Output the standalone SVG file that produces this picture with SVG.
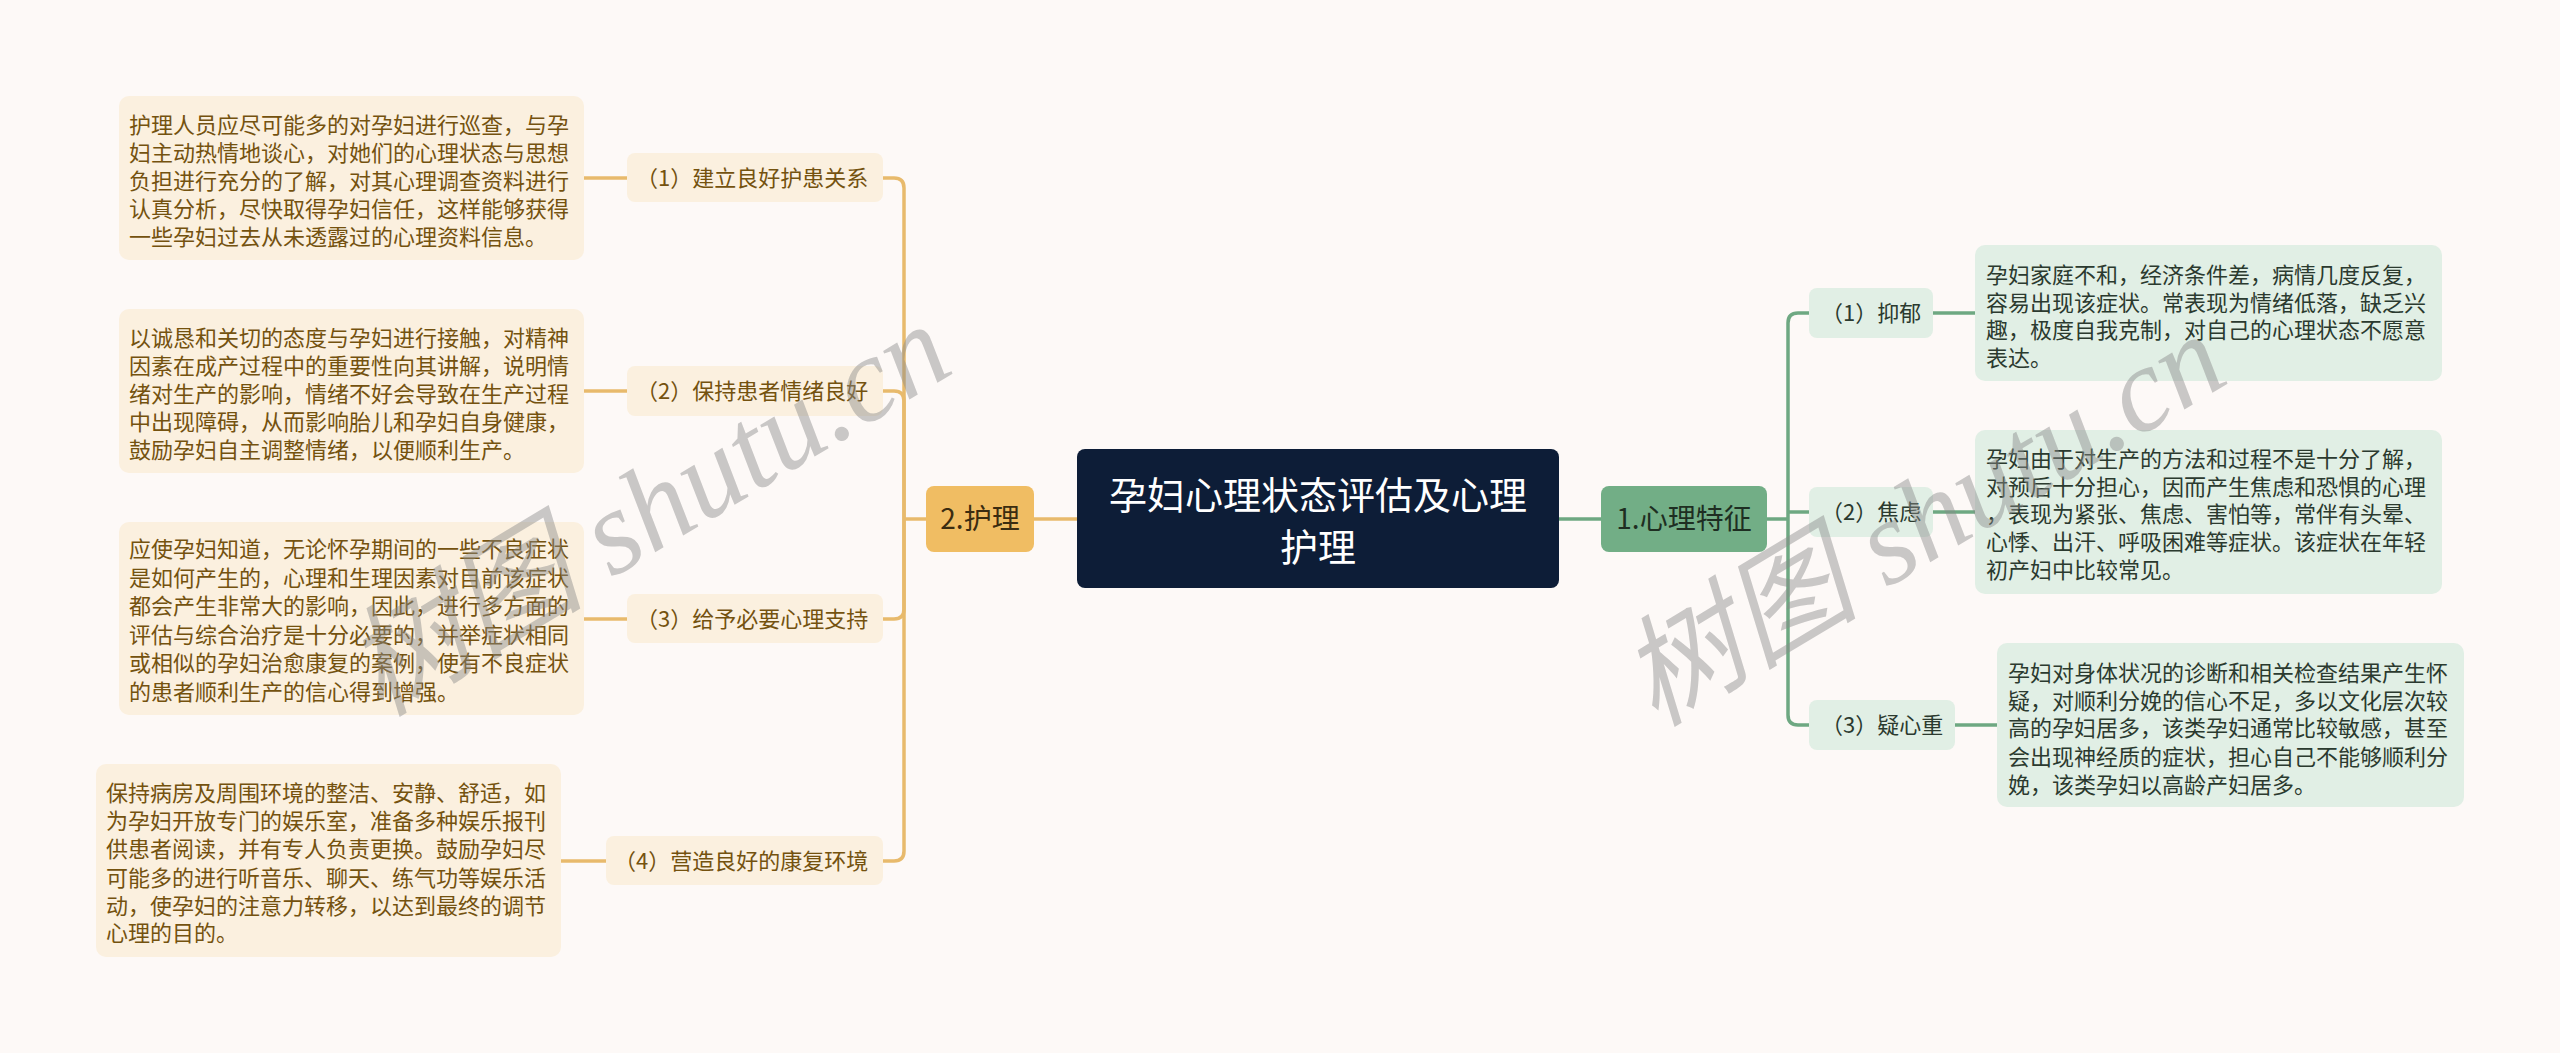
<svg xmlns="http://www.w3.org/2000/svg" width="2560" height="1053" viewBox="0 0 2560 1053">
<style>
.bg{fill:#FDF9F7}
.lc{fill:none;stroke:#E8BA6C;stroke-width:3.5}
.rc{fill:none;stroke:#6EA882;stroke-width:3.5}
.ld{fill:#FBF0DF}
.rd{fill:#E1EFE5}
.t{font-family:"Noto Sans CJK SC","Noto Sans",sans-serif;font-size:22px}
.lt{fill:#74520F}
.rt{fill:#2B3A2F}
.wm{font-family:"Liberation Serif","Noto Sans CJK SC",serif;font-style:italic;font-size:120px;fill:#8A8A8A;fill-opacity:0.45}
</style>
<rect class="bg" x="0" y="0" width="2560" height="1053"/>
<g id="connectors">
<path class="lc" d="M1034 519 H1077"/>
<path class="lc" d="M926 519 H904"/>
<path class="lc" d="M883 178 H894 Q904 178 904 188 V519"/>
<path class="lc" d="M883 391 H894 Q904 391 904 401 V519"/>
<path class="lc" d="M883 619 H894 Q904 619 904 609 V519"/>
<path class="lc" d="M883 861 H894 Q904 861 904 851 V519"/>
<path class="lc" d="M584 178 H627"/>
<path class="lc" d="M584 391 H627"/>
<path class="lc" d="M584 619 H627"/>
<path class="lc" d="M561 861 H606"/>
<path class="rc" d="M1559 519 H1601"/>
<path class="rc" d="M1767 519 H1788"/>
<path class="rc" d="M1809 313 H1798 Q1788 313 1788 323 V519"/>
<path class="rc" d="M1809 512 H1788"/>
<path class="rc" d="M1809 725 H1798 Q1788 725 1788 715 V519"/>
<path class="rc" d="M1933 313 H1975"/>
<path class="rc" d="M1933 512 H1975"/>
<path class="rc" d="M1955 725 H1997"/>
</g>
<g id="root">
<rect x="1077" y="449" width="482" height="139" rx="8" fill="#0D1D37"/>
<text x="1318" y="509" text-anchor="middle" class="t" style="font-size:38px" fill="#FFFFFF">孕妇心理状态评估及心理</text>
<text x="1318" y="561" text-anchor="middle" class="t" style="font-size:38px" fill="#FFFFFF">护理</text>
</g>
<g id="n2">
<rect x="926" y="486" width="108" height="66" rx="8" fill="#F0BD63"/>
<text x="980" y="529" text-anchor="middle" class="t" style="font-size:28px" fill="#3B2C10">2.护理</text>
</g>
<g id="n1">
<rect x="1601" y="486" width="166" height="66" rx="8" fill="#72AE86"/>
<text x="1684" y="529" text-anchor="middle" class="t" style="font-size:28px" fill="#1E2E22">1.心理特征</text>
</g>
<g id="n2-1">
<rect class="ld" x="627" y="153" width="256" height="49" rx="8"/>
<text class="t lt" x="636" y="186">（1）建立良好护患关系</text>
</g>
<g id="n2-2">
<rect class="ld" x="627" y="366" width="256" height="50" rx="8"/>
<text class="t lt" x="636" y="399">（2）保持患者情绪良好</text>
</g>
<g id="n2-3">
<rect class="ld" x="627" y="594" width="256" height="49" rx="8"/>
<text class="t lt" x="636" y="627">（3）给予必要心理支持</text>
</g>
<g id="n2-4">
<rect class="ld" x="606" y="836" width="277" height="49" rx="8"/>
<text class="t lt" x="614" y="869">（4）营造良好的康复环境</text>
</g>
<g id="n2-1-d">
<rect class="ld" x="119" y="96" width="465" height="164" rx="10"/>
<text class="t lt" x="129" y="133">护理人员应尽可能多的对孕妇进行巡查，与孕</text>
<text class="t lt" x="129" y="161">妇主动热情地谈心，对她们的心理状态与思想</text>
<text class="t lt" x="129" y="189">负担进行充分的了解，对其心理调查资料进行</text>
<text class="t lt" x="129" y="217">认真分析，尽快取得孕妇信任，这样能够获得</text>
<text class="t lt" x="129" y="245">一些孕妇过去从未透露过的心理资料信息。</text>
</g>
<g id="n2-2-d">
<rect class="ld" x="119" y="309" width="465" height="164" rx="10"/>
<text class="t lt" x="129" y="346">以诚恳和关切的态度与孕妇进行接触，对精神</text>
<text class="t lt" x="129" y="374">因素在成产过程中的重要性向其讲解，说明情</text>
<text class="t lt" x="129" y="402">绪对生产的影响，情绪不好会导致在生产过程</text>
<text class="t lt" x="129" y="430">中出现障碍，从而影响胎儿和孕妇自身健康，</text>
<text class="t lt" x="129" y="458">鼓励孕妇自主调整情绪，以便顺利生产。</text>
</g>
<g id="n2-3-d">
<rect class="ld" x="119" y="522" width="465" height="193" rx="10"/>
<text class="t lt" x="129" y="557">应使孕妇知道，无论怀孕期间的一些不良症状</text>
<text class="t lt" x="129" y="586">是如何产生的，心理和生理因素对目前该症状</text>
<text class="t lt" x="129" y="614">都会产生非常大的影响，因此，进行多方面的</text>
<text class="t lt" x="129" y="643">评估与综合治疗是十分必要的，并举症状相同</text>
<text class="t lt" x="129" y="671">或相似的孕妇治愈康复的案例，使有不良症状</text>
<text class="t lt" x="129" y="700">的患者顺利生产的信心得到增强。</text>
</g>
<g id="n2-4-d">
<rect class="ld" x="96" y="764" width="465" height="193" rx="10"/>
<text class="t lt" x="106" y="801">保持病房及周围环境的整洁、安静、舒适，如</text>
<text class="t lt" x="106" y="829">为孕妇开放专门的娱乐室，准备多种娱乐报刊</text>
<text class="t lt" x="106" y="857">供患者阅读，并有专人负责更换。鼓励孕妇尽</text>
<text class="t lt" x="106" y="886">可能多的进行听音乐、聊天、练气功等娱乐活</text>
<text class="t lt" x="106" y="914">动，使孕妇的注意力转移，以达到最终的调节</text>
<text class="t lt" x="106" y="941">心理的目的。</text>
</g>
<g id="n1-1">
<rect class="rd" x="1809" y="288" width="124" height="50" rx="8"/>
<text class="t rt" x="1821" y="321">（1）抑郁</text>
</g>
<g id="n1-2">
<rect class="rd" x="1809" y="487" width="124" height="50" rx="8"/>
<text class="t rt" x="1821" y="520">（2）焦虑</text>
</g>
<g id="n1-3">
<rect class="rd" x="1809" y="700" width="146" height="50" rx="8"/>
<text class="t rt" x="1821" y="733">（3）疑心重</text>
</g>
<g id="n1-1-d">
<rect class="rd" x="1975" y="245" width="467" height="136" rx="10"/>
<text class="t rt" x="1986" y="283">孕妇家庭不和，经济条件差，病情几度反复，</text>
<text class="t rt" x="1986" y="311">容易出现该症状。常表现为情绪低落，缺乏兴</text>
<text class="t rt" x="1986" y="338">趣，极度自我克制，对自己的心理状态不愿意</text>
<text class="t rt" x="1986" y="366">表达。</text>
</g>
<g id="n1-2-d">
<rect class="rd" x="1975" y="430" width="467" height="164" rx="10"/>
<text class="t rt" x="1986" y="467">孕妇由于对生产的方法和过程不是十分了解，</text>
<text class="t rt" x="1986" y="495">对预后十分担心，因而产生焦虑和恐惧的心理</text>
<text class="t rt" x="1986" y="522">，表现为紧张、焦虑、害怕等，常伴有头晕、</text>
<text class="t rt" x="1986" y="550">心悸、出汗、呼吸困难等症状。该症状在年轻</text>
<text class="t rt" x="1986" y="578">初产妇中比较常见。</text>
</g>
<g id="n1-3-d">
<rect class="rd" x="1997" y="643" width="467" height="164" rx="10"/>
<text class="t rt" x="2008" y="681">孕妇对身体状况的诊断和相关检查结果产生怀</text>
<text class="t rt" x="2008" y="709">疑，对顺利分娩的信心不足，多以文化层次较</text>
<text class="t rt" x="2008" y="736">高的孕妇居多，该类孕妇通常比较敏感，甚至</text>
<text class="t rt" x="2008" y="765">会出现神经质的症状，担心自己不能够顺利分</text>
<text class="t rt" x="2008" y="793">娩，该类孕妇以高龄产妇居多。</text>
</g>
<g id="watermarks">
<text class="wm" x="648" y="550" text-anchor="middle" transform="rotate(-31 648 510)">树图 shutu.cn</text>
<text class="wm" x="1923" y="560" text-anchor="middle" transform="rotate(-31 1923 520)">树图 shutu.cn</text>
</g>
</svg>
